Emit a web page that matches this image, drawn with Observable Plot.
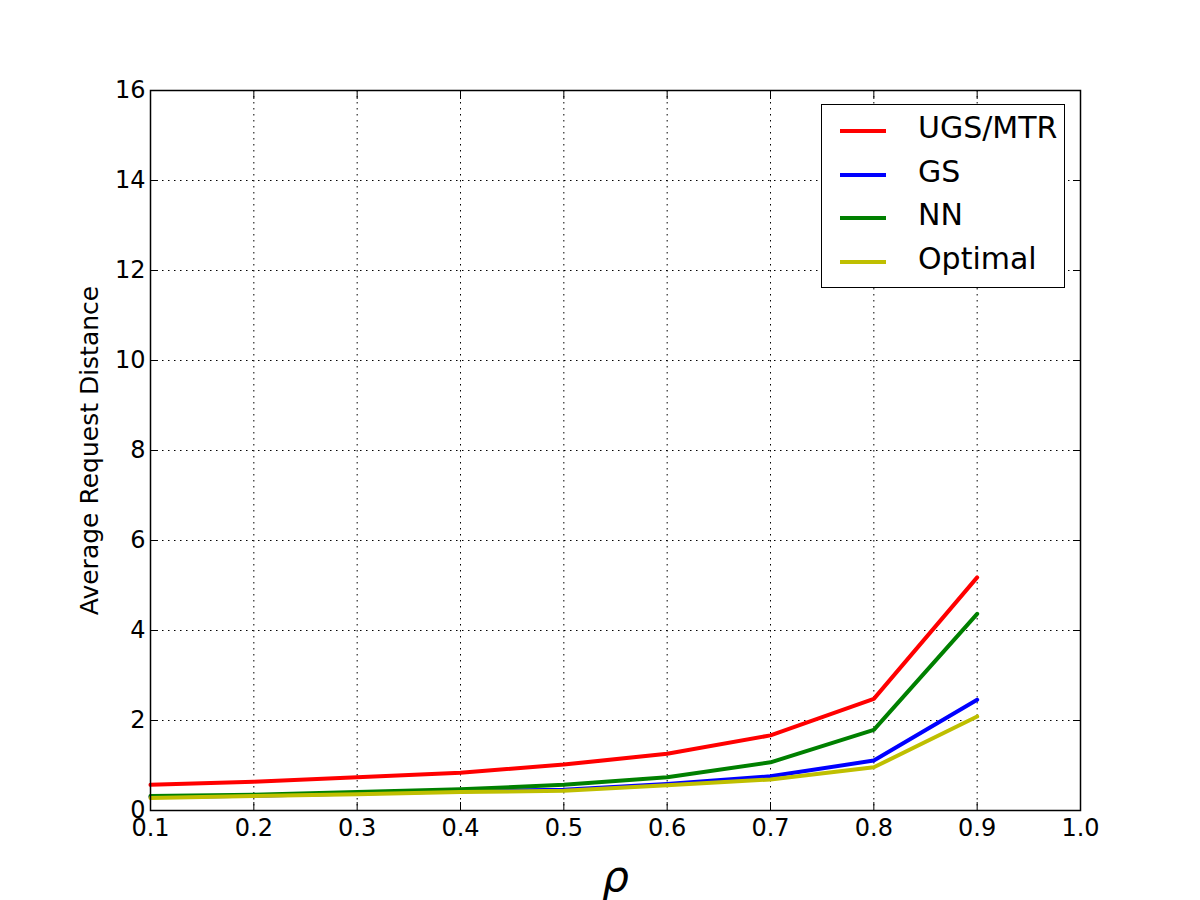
<!DOCTYPE html>
<html>
<head>
<meta charset="utf-8">
<script src="https://cdn.jsdelivr.net/npm/d3@7"></script>
<script src="https://cdn.jsdelivr.net/npm/@observablehq/plot@0.6"></script>
<style>
  html, body { margin: 0; padding: 0; background: #fff; }
  #wrap { position: relative; width: 1200px; height: 900px; font-family: "DejaVu Sans", sans-serif; }
  #wrap svg g[aria-label="x-axis tick label"] text,
  #wrap svg g[aria-label="y-axis tick label"] text { font-size: 24px !important; font-family: "DejaVu Sans", sans-serif; }
  #legend { position: absolute; left: 821px; top: 104px; width: 244px; height: 184px; border: 1.5px solid #000; background: #fff; box-sizing: border-box; }
  .lg { position: absolute; left: 0; height: 40px; width: 240px; }
  .lg .sw { position: absolute; left: 18px; width: 46px; height: 0; border-top: 4px solid; top: 0; }
  .lg .tx { position: absolute; left: 96px; top: -19px; font-size: 30px; line-height: 36px; color: #000; white-space: nowrap; font-family: "DejaVu Sans", sans-serif; }
</style>
</head>
<body>
<div id="wrap"></div>
<script>
const rho = [0.1, 0.2, 0.3, 0.4, 0.5, 0.6, 0.7, 0.8, 0.9];
const seriesNames = ["UGS/MTR", "GS", "NN", "Optimal"];
const seriesColors = ["#ff0000", "#0000ff", "#008000", "#bfbf00"];
const ugs = [0.57, 0.64, 0.74, 0.84, 1.02, 1.26, 1.67, 2.48, 5.18];
const gs  = [0.30, 0.33, 0.38, 0.43, 0.46, 0.59, 0.76, 1.11, 2.46];
const nn  = [0.32, 0.35, 0.41, 0.47, 0.57, 0.74, 1.07, 1.79, 4.37];
const opt = [0.28, 0.32, 0.36, 0.41, 0.44, 0.56, 0.69, 0.96, 2.09];
const xTicks = [0.1, 0.2, 0.3, 0.4, 0.5, 0.6, 0.7, 0.8, 0.9, 1.0];
const yTicks = [0, 2, 4, 6, 8, 10, 12, 14, 16];
const yLabel = "Average Request Distance";
const xLabel = "ρ";

const allSeries = [ugs, gs, nn, opt];
const data = [];
allSeries.forEach((vals, si) => {
  vals.forEach((v, i) => data.push({ rho: rho[i], value: v, series: seriesNames[si] }));
});

const chart = Plot.plot({
  width: 1200,
  height: 900,
  marginLeft: 150,
  marginRight: 120,
  marginTop: 90,
  marginBottom: 90,
  style: { fontFamily: "DejaVu Sans, sans-serif", fontSize: "20px", color: "#000", background: "#fff" },
  x: { domain: [0.1, 1.0] },
  y: { domain: [0, 16] },
  color: { domain: seriesNames, range: seriesColors },
  marks: [
    Plot.gridX(xTicks, { stroke: "#000", strokeOpacity: 1, strokeWidth: 1, strokeDasharray: "1.5,4.5" }),
    Plot.gridY(yTicks, { stroke: "#000", strokeOpacity: 1, strokeWidth: 1, strokeDasharray: "1.5,4.5" }),
    Plot.axisX(xTicks, { tickSize: -8, tickPadding: 16, tickFormat: d => d.toFixed(1), label: null, fontSize: 24 }),
    Plot.axisX(xTicks, { anchor: "top", tickSize: -8, tickFormat: () => "", label: null }),
    Plot.axisY(yTicks, { tickSize: -8, tickPadding: 13, tickFormat: d => String(d), label: null, fontSize: 24 }),
    Plot.axisY(yTicks, { anchor: "right", tickSize: -8, tickFormat: () => "", label: null }),
    Plot.line(data, { x: "rho", y: "value", z: "series", stroke: "series", strokeWidth: 4 }),
    Plot.frame({ stroke: "#000", strokeWidth: 1.5 }),
    Plot.text([yLabel], { frameAnchor: "left", textAnchor: "middle", dx: -61, rotate: -90, fontSize: 25, fill: "#000", fontFamily: "DejaVu Sans, sans-serif" }),
    Plot.text([xLabel], { frameAnchor: "bottom", dy: 80, fontSize: 42, fontStyle: "italic", fill: "#000" })
  ]
});

const wrap = document.getElementById("wrap");
wrap.appendChild(chart);

const legend = document.createElement("div");
legend.id = "legend";
seriesNames.forEach((name, i) => {
  const row = document.createElement("div");
  row.className = "lg";
  row.style.top = (24 + i * 43.5) + "px";
  const sw = document.createElement("div");
  sw.className = "sw";
  sw.style.borderTopColor = seriesColors[i];
  const tx = document.createElement("div");
  tx.className = "tx";
  tx.textContent = name;
  row.appendChild(sw);
  row.appendChild(tx);
  legend.appendChild(row);
});
wrap.appendChild(legend);
</script>
</body>
</html>
